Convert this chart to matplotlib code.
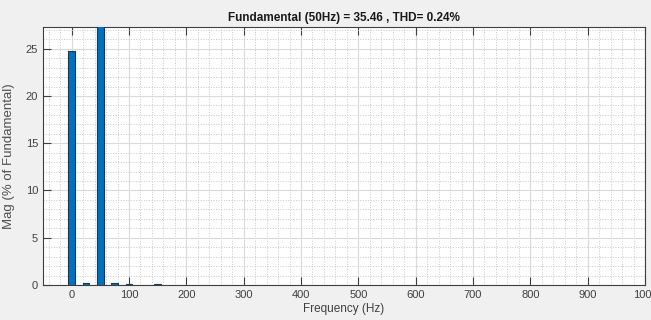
import numpy as np
import matplotlib.pyplot as plt
from matplotlib.ticker import MultipleLocator

# harmonic spectrum (% of fundamental)
freq = [0, 25, 50, 75, 100, 150]
mag = [24.8, 0.2, 100.0, 0.2, 0.1, 0.1]
fundamental = 35.46
thd = 0.24

plt.rcParams['font.family'] = ['Liberation Sans', 'DejaVu Sans']

fig = plt.figure(figsize=(6.51, 3.20), dpi=100, facecolor='#f0f0f0')
ax = fig.add_axes([43 / 651, 35 / 320, 602 / 651, 258 / 320])
ax.set_facecolor('white')

ax.bar(freq, mag, width=12, color='#0072bd', edgecolor='#1c3550', linewidth=0.8, zorder=3)

ax.set_xlim(-50, 1000)
ax.set_ylim(0, 27.3)
ax.xaxis.set_major_locator(MultipleLocator(100))
ax.xaxis.set_minor_locator(MultipleLocator(20))
ax.yaxis.set_major_locator(MultipleLocator(5))
ax.yaxis.set_minor_locator(MultipleLocator(1))
ax.grid(which='major', color='#dadada', linewidth=0.8, zorder=0)
ax.grid(which='minor', color='#c8c8c8', linestyle=':', linewidth=0.7, zorder=0)
ax.tick_params(which='major', direction='in', length=6, top=True, right=False,
               labelsize=8, colors='#404040', width=0.8)
ax.tick_params(which='minor', length=0)
for s in ax.spines.values():
    s.set_color('#404040')
    s.set_linewidth(0.8)

ax.set_xlabel('Frequency (Hz)', fontsize=8.5, color='#404040', labelpad=2)
ax.set_ylabel('Mag (% of Fundamental)', fontsize=9.5, color='#505050', labelpad=8)
ax.set_title('Fundamental (50Hz) = %.2f , THD= %.2f%%' % (fundamental, thd),
             fontsize=8.5, fontweight='bold', color='#1a1a1a', pad=4)

plt.savefig('out.png', dpi=100, facecolor=fig.get_facecolor())
